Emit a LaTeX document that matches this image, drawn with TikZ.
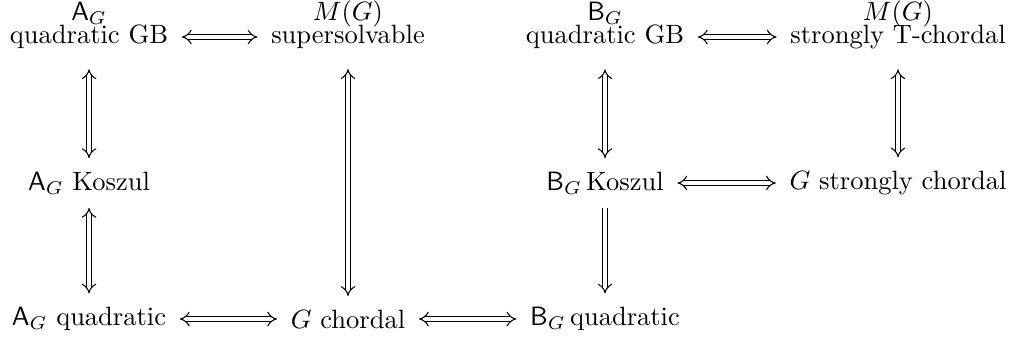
\documentclass[tikz,border=0pt]{standalone}
\usetikzlibrary{arrows.meta}

\tikzset{
  cell/.style={inner sep=2.5pt},
  top/.style={inner sep=0pt, label distance=-1pt, anchor=base},
  iff/.style={double, double equal sign distance, {Implies}-{Implies}, shorten <=2.5pt, shorten >=2.5pt},
  imp/.style={double, double equal sign distance, -{Implies}, shorten <=2.5pt, shorten >=2.5pt},
  fromtop/.style={shorten <=5pt}
}

\begin{document}
\begin{tikzpicture}[x=0.3774pt, y=-0.3774pt]

% Kolumny i wiersze (w pikselach obrazka)
\def\xA{89}
\def\xM{348}
\def\xB{605}
\def\xT{898}
\def\yA{37}
\def\yB{183}
\def\yC{319}

\useasboundingbox (0,0) rectangle (1011,337);

% ---------- Gorny wiersz ----------
\node[cell, label={[top]above:$\mathsf{A}_G$}] (a1) at (\xA,\yA) {quadratic GB};
\node[cell, label={[top]above:$M(G)$}] (m1) at (\xM,\yA) {supersolvable};
\node[cell, label={[top]above:$\mathsf{B}_G$}] (b1) at (\xB,\yA) {quadratic GB};
\node[cell, label={[top]above:$M(G)$}] (t1) at (\xT,\yA) {strongly T-chordal};

% ---------- Srodkowy wiersz ----------
\node[cell] (a2) at (\xA,\yB) {$\mathsf{A}_G$ Koszul};
\node[cell] (b2) at (\xB,\yB) {$\mathsf{B}_G\,$Koszul};
\node[cell] (s2) at (\xT,\yB) {$G$ strongly chordal};

% ---------- Dolny wiersz ----------
\node[cell] (a3) at (\xA,\yC) {$\mathsf{A}_G$ quadratic};
\node[cell] (g3) at (\xM,\yC) {$G$ chordal};
\node[cell] (b3) at (\xB,\yC) {$\mathsf{B}_G\,$quadratic};

% ---------- Rownowaznosci ----------
\draw[iff] (a1) -- (m1);
\draw[iff] (b1) -- (t1);
\draw[iff, fromtop] (a1) -- (a2);
\draw[iff, fromtop] (b1) -- (b2);
\draw[iff, fromtop] (t1) -- (s2);
\draw[iff, fromtop] (m1) -- (g3);
\draw[iff] (b2) -- (s2);
\draw[iff] (a2) -- (a3);
\draw[iff] (a3) -- (g3);
\draw[iff] (g3) -- (b3);

% ---------- Implikacja ----------
\draw[imp] (b2) -- (b3);

\end{tikzpicture}
\end{document}
